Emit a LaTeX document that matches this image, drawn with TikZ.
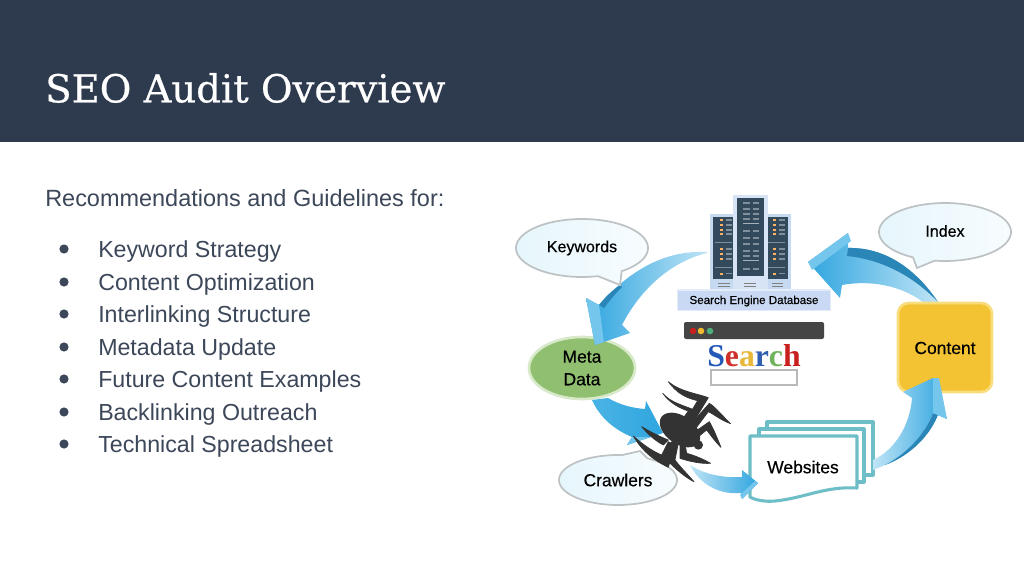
\documentclass[tikz,border=0pt]{standalone}
\usepackage{fontspec}
\setmainfont{Liberation Sans}
\newfontfamily\titlefont[FakeBold=0.6]{DejaVu Serif}
\newfontfamily\labelfont[FakeBold=0.4]{Liberation Sans}
\newfontfamily\searchfont{Liberation Serif}
\definecolor{hdr}{HTML}{2E3A4E}
\definecolor{bodyc}{HTML}{3C4759}
\definecolor{blueA}{HTML}{2FA5DF}
\definecolor{blueB}{HTML}{4AB3E4}
\definecolor{blueP}{HTML}{BFE4F6}
\definecolor{blueD}{HTML}{2B86B8}
\definecolor{blueL}{HTML}{74C6EC}
\definecolor{bubl}{HTML}{E6F6FC}
\definecolor{bubs}{HTML}{BDC3C4}
\definecolor{pagec}{HTML}{6DBEC6}
\definecolor{srvL}{HTML}{C5D9F0}
\definecolor{srvD}{HTML}{33495C}
\definecolor{srvB}{HTML}{7F8F9C}
\definecolor{lab}{HTML}{C9D9F3}
\definecolor{spi}{HTML}{333333}
\definecolor{metaF}{HTML}{8FBF6F}
\definecolor{metaS}{HTML}{D7E9C9}
\definecolor{contF}{HTML}{F3C333}
\definecolor{contS}{HTML}{F9DD7D}
\definecolor{sBlue}{HTML}{2458B8}
\definecolor{sRed}{HTML}{D0302A}
\definecolor{sYel}{HTML}{E8B83A}
\definecolor{sBlu2}{HTML}{2F5FB0}
\definecolor{sGre}{HTML}{6FB35A}
\definecolor{sRe2}{HTML}{C8201E}
\definecolor{dotG}{HTML}{4CAF7A}
\definecolor{dotY}{HTML}{F0B92E}
\definecolor{dotR}{HTML}{C8201E}
\tikzset{
  x=0.75pt,y=-0.75pt,
  bodytext/.style={anchor=base west,text=bodyc,font=\fontsize{17.6pt}{20pt}\selectfont,inner sep=0pt},
  itemtext/.style={bodytext,font=\fontsize{17.4pt}{20pt}\selectfont},
  tag/.style={text=black,font=\labelfont\fontsize{12pt}{15pt}\selectfont,inner sep=0pt,align=center},
  tagbig/.style={tag,font=\labelfont\fontsize{13.1pt}{16pt}\selectfont},
  bubble/.style={draw=bubs,line width=1.3pt,left color=bubl,right color=white!70!bubl},
  page/.style={draw=pagec,line width=2.3pt,fill=white,line join=round},
  legs/.style={fill=spi,draw=spi,line width=0.5pt,line join=round},
}
\newcommand{\bubblepath}[8]{% cx cy rx ry a b tipx tipy
  \path[bubble] plot[domain=#5:#6,samples=90] ({#1+#3*cos(\x)},{#2+#4*sin(\x)}) -- (#7,#8) -- cycle;}
\begin{document}
\begin{tikzpicture}
\useasboundingbox (0,0) rectangle (1024,581);
\fill[white] (0,0) rectangle (1024,581);
\fill[hdr] (0,0) rectangle (1024,142);
\node[anchor=west,text=white,inner sep=0pt,font=\titlefont\fontsize{28.9pt}{34pt}\selectfont] (title) at (45,88) {SEO Audit Overview};
\node[bodytext] (lead) at (45,206) {Recommendations and Guidelines for:};
\foreach \yy/\tt/\nn in {249/Keyword Strategy/a,282/Content Optimization/b,314/Interlinking Structure/c,347/Metadata Update/d,379/Future Content Examples/e,412/Backlinking Outreach/f,444/Technical Spreadsheet/g}{
  \fill[bodyc] (64,\yy) circle (4.6);
  \node[itemtext] (item\nn) at (98,\yy+8) {\tt};
}
% Meta data
\draw[draw=metaS,line width=2pt,fill=metaF] (582,368) ellipse [x radius=53,y radius=31];
\node[tagbig] (meta) at (582,368) {Meta\\[1pt]Data};
% arrow database -> meta
\path[left color=blueA,middle color=blueB,right color=blueP] (707,252) .. controls (665,250) and (630,270) .. (599,305) -- (586,298) -- (595,345) -- (630,333) -- (622,325) .. controls (640,290) and (670,262) .. (707,253) -- cycle;
\path[fill=blueD] (599,305) .. controls (607,295) and (612,291) .. (620,285) -- (622,287) .. controls (616,293) and (610,300) .. (604,308) -- cycle;
\path[fill=blueL] (586,298) -- (599,305) -- (604,342) -- (595,345) -- cycle;
% arrow content -> database
\path[left color=blueA,middle color=blueB,right color=blueP] (848,248) .. controls (890,247) and (920,275) .. (938,302) -- (923,302) .. controls (900,285) and (870,280) .. (842,285) -- (840,298) -- (808,262) -- (848,233) -- cycle;
\path[fill=blueD] (848,248) .. controls (890,247) and (920,275) .. (938,302) .. controls (915,278) and (885,260) .. (847,256) -- cycle;
\path[fill=blueL] (808,262) -- (848,233) -- (851,241) -- (812,270) -- cycle;
% content
\draw[draw=contS,line width=2pt,fill=contF,rounded corners=8] (898,303) rectangle (992,392);
\node[tagbig] (content) at (945,348) {Content};
% websites
\draw[page] (767,429) -- (767,422) -- (873,422) -- (873,475) -- (864,475);
\draw[page] (759,436) -- (759,429) -- (864,429) -- (864,482) -- (857,482);
\draw[page] (750,436) -- (857,436) -- (857,488) .. controls (825,486) and (805,498) .. (775,501) .. controls (765,502) and (755,500) .. (750,497) -- cycle;
\node[tagbig] (web) at (803,467) {Websites};
% arrow websites -> content
\path[left color=blueP,middle color=blueB,right color=blueA] (873,460) .. controls (895,450) and (910,425) .. (912,398) -- (903,392) -- (933,378) -- (947,419) -- (933,413) .. controls (920,445) and (900,460) .. (873,470) -- cycle;
\path[fill=blueD] (933,413) -- (938,415) .. controls (928,440) and (905,458) .. (885,465) .. controls (905,455) and (925,435) .. (933,413) -- cycle;
\path[fill=blueL] (933,378) -- (939,378) -- (947,419) -- (933,413) -- cycle;
% arrow meta -> crawlers
\path[left color=blueB,right color=blueA] (592,400) -- (608,398) .. controls (620,405) and (632,408) .. (645,409) -- (646,401) -- (663,433) -- (627,445) -- (632,437) .. controls (615,430) and (600,418) .. (592,400) -- cycle;
\path[fill=blueL] (627,445) -- (632,437) -- (650,437) -- cycle;
% arrow crawlers -> websites
\path[left color=blueP,middle color=blueB,right color=blueA] (690,465) .. controls (705,475) and (725,478) .. (742,477) -- (742,470) -- (758,483) -- (742,499) -- (741,493) .. controls (720,495) and (700,485) .. (690,465) -- cycle;
\path[fill=blueL] (758,483) -- (742,499) -- (740,495) -- (755,481) -- cycle;
% bubbles
\bubblepath{582}{248}{66}{29}{76}{413}{620}{285}
\node[tag] (kw) at (582,248) {Keywords};
\bubblepath{945}{232}{66}{29}{119}{459}{917}{268}
\node[tag] (idx) at (945,231) {Index};
\bubblepath{618}{480}{59}{25}{300}{634}{640}{451}
\node[tagbig] (crawl) at (618,480) {Crawlers};
% servers
\begin{scope}[shift={(670,190)},scale=1/3]
  \fill[srvL] (120,72) rectangle (190,300);
  \fill[srvL] (293,72) rectangle (362,300);
  \fill[srvL!70!white] (190,15) rectangle (295,300);
  \fill[srvD] (128,82) rectangle (188,268);
  \fill[srvD] (295,82) rectangle (355,268);
  \fill[srvD] (202,25) rectangle (283,258);
  \foreach \yy in {35,55,70,85,120,140,160,180,195,235}{
    \fill[srvB] (220,\yy) rectangle (240,\yy+6);
    \fill[srvB] (248,\yy) rectangle (268,\yy+6);
  }
  \foreach \yy in {100,210}{\fill[srvB!70!white] (220,\yy) rectangle (268,\yy+3);}
  \foreach \xx in {150,310}{
    \foreach \yy in {88,102,117,130,175,190,205,248}{
      \fill[orange!60!white] (\xx,\yy) rectangle (\xx+9,\yy+6);
      \fill[srvB] (\xx+17,\yy) rectangle (\xx+35,\yy+5);
    }
    \foreach \yy in {155,230}{\fill[srvB] (\xx-15,\yy) rectangle (\xx+35,\yy+3);}
  }
  \foreach \xx in {145,222,305}{
    \fill[gray] (\xx,278) rectangle (\xx+35,281);
    \fill[gray] (\xx,288) rectangle (\xx+35,291);
  }
  \draw[draw=lab!50!white,line width=1.2pt,fill=lab] (22,300) rectangle (482,362);
\end{scope}
\node[tag,font=\labelfont\fontsize{8.7pt}{10pt}\selectfont] (db) at (754,301) {Search Engine Database};
% browser bar
\fill[black!73!white,rounded corners=1.5] (684,322) rectangle (824,339);
\fill[dotR] (693,331) circle (3.3);
\fill[dotY] (701,331) circle (3.3);
\fill[dotG] (710,331) circle (3.3);
\node[inner sep=0pt,font=\searchfont\bfseries\fontsize{23.8pt}{26pt}\selectfont] (search) at (754,356) {\textcolor{sBlue}{S}\textcolor{sRed}{e}\textcolor{sYel}{a}\textcolor{sBlu2}{r}\textcolor{sGre}{c}\textcolor{sRe2}{h}};
\draw[draw=gray!55!white,line width=0.9pt,fill=white] (711,370) rectangle (797,385);
% spider
\begin{scope}[shift={(520,330)},scale=1/3]
  \path[legs] (445,155) .. controls (480,185) and (530,190) .. (565,203) -- (515,285) -- (495,275) -- (533,212) .. controls (500,205) and (470,190) .. cycle;
  \path[legs] (428,190) .. controls (455,220) and (490,225) .. (530,243) -- (490,300) -- (475,285) -- (505,243) .. controls (480,235) and (450,220) .. cycle;
  \path[legs] (632,281) .. controls (600,250) and (585,230) .. (568,220) -- (510,285) -- (525,298) -- (565,245) .. controls (585,255) and (605,272) .. cycle;
  \path[legs] (603,352) .. controls (590,320) and (580,295) .. (568,275) -- (525,305) -- (535,320) -- (560,300) .. controls (575,320) and (590,340) .. cycle;
  \path[legs] (572,400) .. controls (545,385) and (520,375) .. (500,370) -- (495,340) -- (480,340) -- (480,385) .. controls (510,395) and (545,402) .. cycle;
  \path[legs] (522,455) .. controls (500,430) and (480,410) .. (465,390) -- (475,340) -- (455,335) -- (445,395) .. controls (470,420) and (500,445) .. cycle;
  \path[legs] (340,318) .. controls (370,370) and (410,395) .. (445,412) -- (465,345) -- (445,335) -- (425,375) .. controls (400,365) and (370,345) .. cycle;
  \path[legs] (365,290) .. controls (385,315) and (410,335) .. (430,345) -- (445,330) .. controls (420,320) and (390,305) .. cycle;
  \fill[spi,rotate around={-35:(480,300)}] (480,300) ellipse [x radius=68,y radius=42];
  \fill[spi] (535,345) circle (14);
\end{scope}
\end{tikzpicture}
\end{document}
